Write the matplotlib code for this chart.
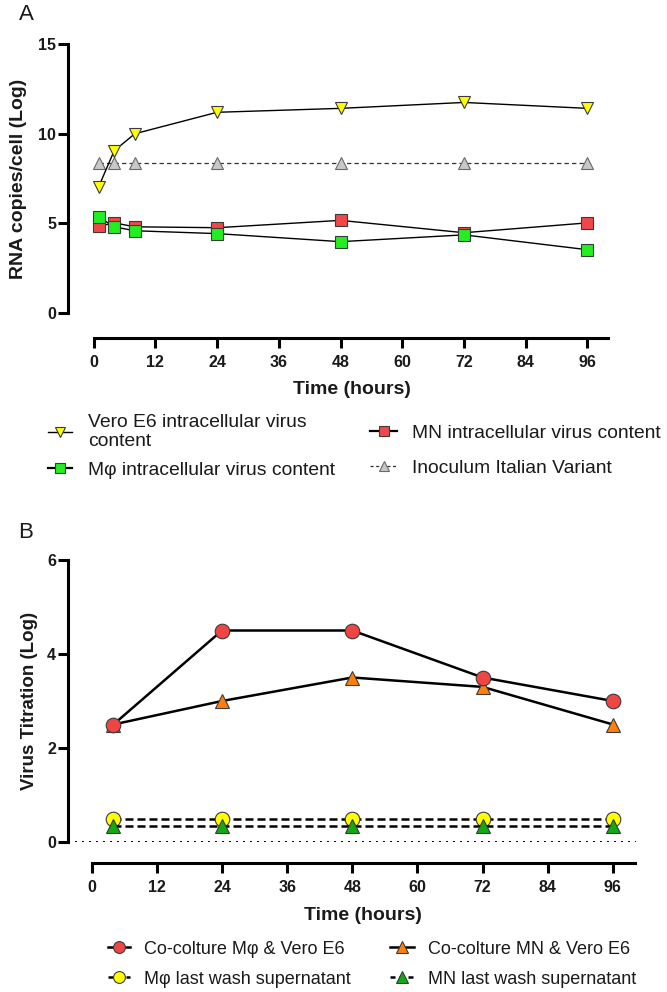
import matplotlib
matplotlib.use("Agg")
import matplotlib.pyplot as plt
from matplotlib.lines import Line2D

plt.rcParams["font.family"] = ["Liberation Sans", "DejaVu Sans"]

# ---- Panel A: intracellular viral RNA (log copies per cell) ----
hours_a = [1, 4, 8, 24, 48, 72, 96]
vero_rna = [7.05, 9.05, 10.0, 11.2, 11.42, 11.75, 11.42]
mn_rna = [4.83, 5.02, 4.8, 4.75, 5.16, 4.47, 5.02]
mphi_rna = [5.35, 4.8, 4.58, 4.42, 3.97, 4.35, 3.52]
inoculum_rna = [8.38, 8.38, 8.38, 8.38, 8.38, 8.38, 8.38]

# ---- Panel B: virus titration (log) ----
hours_b = [4, 24, 48, 72, 96]
cocult_mphi = [2.5, 4.5, 4.5, 3.5, 3.0]
cocult_mn = [2.5, 3.0, 3.5, 3.3, 2.5]
wash_mphi = [0.5, 0.5, 0.5, 0.5, 0.5]
wash_mn = [0.35, 0.35, 0.35, 0.35, 0.35]

hour_ticks = [0, 12, 24, 36, 48, 60, 72, 84, 96]
yticks_a = [0, 5, 10, 15]
yticks_b = [0, 2, 4, 6]

W, H = 667, 992
DPI = 100
fig = plt.figure(figsize=(W / DPI, H / DPI), dpi=DPI)

TXT = "#1a1a1a"
EDGE = "#3a3a3a"
SPINE_LW = 2.2


def px2pt(px):
    return px * 72.0 / DPI


def axes_rect(left_px, right_px, top_px, bottom_px):
    return [left_px / W, 1 - bottom_px / H, (right_px - left_px) / W, (bottom_px - top_px) / H]


def style_axes(ax, xlim, ylim, yticks, offset_px):
    for side in ("top", "right"):
        ax.spines[side].set_visible(False)
    ax.spines["left"].set_linewidth(SPINE_LW)
    ax.spines["bottom"].set_linewidth(SPINE_LW)
    ax.spines["left"].set_bounds(ylim[0], ylim[1])
    ax.spines["bottom"].set_bounds(0, 100)
    ax.spines["bottom"].set_position(("outward", px2pt(offset_px)))
    ax.set_xlim(*xlim)
    ax.set_ylim(*ylim)
    ax.set_xticks(hour_ticks)
    ax.set_xticklabels([str(t) for t in hour_ticks], fontweight="bold")
    ax.set_yticks(yticks)
    ax.set_yticklabels([str(t) for t in yticks], fontweight="bold")
    ax.tick_params(axis="both", length=7, width=SPINE_LW, labelsize=11.5,
                   color="black", labelcolor=TXT)
    ax.tick_params(axis="x", pad=5.5)
    ax.tick_params(axis="y", pad=1.5)
    ax.patch.set_visible(False)


# ================= Panel A =================
axA = fig.add_axes(axes_rect(68, 608, 44.3, 312.7))
style_axes(axA, (-4.98, 100), (0, 15), yticks_a, 25)

axA.plot(hours_a, inoculum_rna, color="#333333", lw=0.9, dashes=(3.5, 2.5),
         marker="^", ms=8.5, mfc="#c8c8c8", mec="#6a6a6a", mew=0.8, clip_on=False, zorder=3)
axA.plot(hours_a, vero_rna, color="black", lw=1.0,
         marker="v", ms=9, mfc="#ffff00", mec=EDGE, mew=0.8, clip_on=False, zorder=4)
axA.plot(hours_a, mn_rna, color="black", lw=1.0,
         marker="s", ms=8, mfc="#f04848", mec=EDGE, mew=0.8, clip_on=False, zorder=4)
axA.plot(hours_a, mphi_rna, color="black", lw=1.0,
         marker="s", ms=8, mfc="#22ee22", mec=EDGE, mew=0.8, clip_on=False, zorder=5)

axA.set_ylabel("RNA copies/cell (Log)", fontsize=14, fontweight="bold", color=TXT)
axA.yaxis.label.set_verticalalignment("center")
axA.yaxis.set_label_coords((19 - 68) / 540, 0.5)
axA.set_xlabel("Time (hours)", fontsize=14, fontweight="bold", color=TXT)
axA.xaxis.label.set_verticalalignment("center")
axA.xaxis.set_label_coords((352 - 68) / 540, (312.7 - 390) / 268.4)

fig.text(26 / W, 1 - 15 / H, "A", fontsize=16, color=TXT, ha="center", va="center")

# ================= Panel B =================
axB = fig.add_axes(axes_rect(68, 635.7, 560, 842))
style_axes(axB, (-4.36, 100.2), (0, 6), yticks_b, 21)

axB.axhline(0, color="black", lw=1.4, linestyle=(0, (1, 2.6)), zorder=1)
axB.plot(hours_b, cocult_mn, color="black", lw=1.8,
         marker="^", ms=10.5, mfc="#ff7f0a", mec=EDGE, mew=0.8, clip_on=False, zorder=3)
axB.plot(hours_b, cocult_mphi, color="black", lw=1.8,
         marker="o", ms=10.5, mfc="#f04545", mec=EDGE, mew=0.8, clip_on=False, zorder=4)
axB.plot(hours_b, wash_mphi, color="black", lw=1.8, dashes=(3.2, 1.6),
         marker="o", ms=10.5, mfc="#ffff00", mec=EDGE, mew=0.8, clip_on=False, zorder=3)
axB.plot(hours_b, wash_mn, color="black", lw=1.8, dashes=(3.2, 1.6),
         marker="^", ms=10, mfc="#11aa11", mec=EDGE, mew=0.8, clip_on=False, zorder=4)

axB.set_ylabel("Virus Titration (Log)", fontsize=13.5, fontweight="bold", color=TXT)
axB.yaxis.label.set_verticalalignment("center")
axB.yaxis.set_label_coords((30 - 68) / 567.7, 0.5)
axB.set_xlabel("Time (hours)", fontsize=14, fontweight="bold", color=TXT)
axB.xaxis.label.set_verticalalignment("center")
axB.xaxis.set_label_coords((363 - 68) / 567.7, (842 - 915) / 282)

fig.text(26 / W, 1 - 532 / H, "B", fontsize=16, color=TXT, ha="center", va="center")


# ================= Legends =================
def legend_entry(x_px, y_px, handle, label, fontsize, hlen_px, gap_px):
    fs_px = fontsize * DPI / 72.0
    fig.legend([handle], [label], loc="center left",
               bbox_to_anchor=(x_px / W, 1 - y_px / H), frameon=False,
               borderpad=0, borderaxespad=0, fontsize=fontsize,
               handlelength=hlen_px / fs_px, handletextpad=gap_px / fs_px,
               labelcolor=TXT)


h_vero = Line2D([], [], color="black", lw=1.0, marker="v", ms=7, mfc="#ffff00", mec=EDGE, mew=0.8)
h_mn = Line2D([], [], color="black", lw=1.6, marker="s", ms=7, mfc="#f04848", mec=EDGE, mew=0.8)
h_mphi = Line2D([], [], color="black", lw=1.6, marker="s", ms=7, mfc="#22ee22", mec=EDGE, mew=0.8)
h_inoc = Line2D([], [], color="#333333", lw=0.9, dashes=(2.5, 2.0), marker="^", ms=7,
                mfc="#c8c8c8", mec="#6a6a6a", mew=0.8)

legend_entry(48, 432, h_vero, "Vero E6 intracellular virus\ncontent", 13.9, 24, 16)
legend_entry(48, 470, h_mphi, "M\u03c6 intracellular virus content", 13.9, 24, 16)
legend_entry(370, 433, h_mn, "MN intracellular virus content", 13.9, 27, 15)
legend_entry(370, 468, h_inoc, "Inoculum Italian Variant", 13.9, 27, 15)

h_cm = Line2D([], [], color="black", lw=1.8, marker="o", ms=8.5, mfc="#f04545", mec=EDGE, mew=0.8)
h_wm = Line2D([], [], color="black", lw=1.8, dashes=(2.0, 1.6), marker="o", ms=8.5,
              mfc="#ffff00", mec=EDGE, mew=0.8)
h_cn = Line2D([], [], color="black", lw=1.8, marker="^", ms=8.5, mfc="#ff7f0a", mec=EDGE, mew=0.8)
h_wn = Line2D([], [], color="black", lw=1.8, dashes=(2.0, 1.6), marker="^", ms=8.5,
              mfc="#11aa11", mec=EDGE, mew=0.8)

legend_entry(108, 949, h_cm, "Co-colture M\u03c6 & Vero E6", 13, 22, 14)
legend_entry(108, 979, h_wm, "M\u03c6 last wash supernatant", 13, 22, 14)
legend_entry(390, 949, h_cn, "Co-colture MN & Vero E6", 13, 24, 14)
legend_entry(390, 979, h_wn, "MN last wash supernatant", 13, 24, 14)

fig.savefig("out.png", dpi=DPI)
